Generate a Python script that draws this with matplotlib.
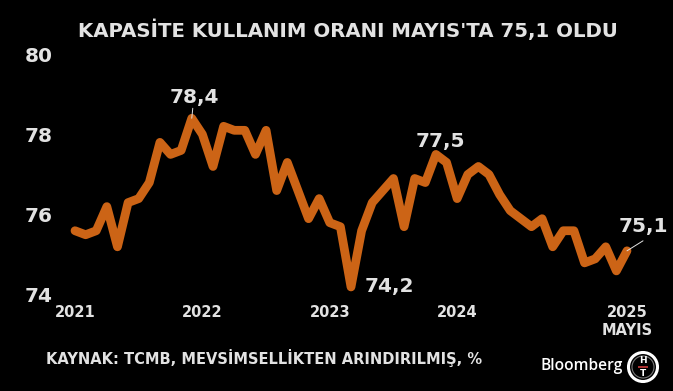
import matplotlib
matplotlib.use("Agg")
import matplotlib.pyplot as plt
from matplotlib.patches import Circle, Rectangle

W, H = 673, 391
values = [75.6, 75.5, 75.6, 76.2, 75.2, 76.3, 76.4, 76.8, 77.8, 77.5, 77.6, 78.4,
          78.0, 77.2, 78.2, 78.1, 78.1, 77.5, 78.1, 76.6, 77.3, 76.6, 75.9, 76.4,
          75.8, 75.7, 74.2, 75.6, 76.3, 76.6, 76.9, 75.7, 76.9, 76.8, 77.5, 77.3,
          76.4, 77.0, 77.2, 77.0, 76.5, 76.1, 75.9, 75.7, 75.9, 75.2, 75.6, 75.6,
          74.8, 74.9, 75.2, 74.6, 75.1]
months = list(range(len(values)))
y_ticks = [74, 76, 78, 80]
x_ticks = [0, 12, 24, 36, 52]
x_labels = ["2021", "2022", "2023", "2024", "2025\nMAYIS"]
callouts = [("78,4", 11, 78.4, 3, 21), ("77,5", 34, 77.5, 4, 13),
            ("74,2", 26, 74.2, 38, 0), ("75,1", 52, 75.1, 16, 24)]

TXT = "#e2e2e2"
ORANGE = "#cc6416"
fig = plt.figure(figsize=(W / 100, H / 100), dpi=100, facecolor="black")
fig.canvas.draw()
ax = fig.add_axes([75 / W, (H - 295) / H, (627 - 75) / W, (295 - 54) / H], facecolor="none")
ax.plot(months, values, color=ORANGE, lw=6.3, solid_joinstyle="round", solid_capstyle="round", clip_on=False)
ax.set_xlim(0, 52)
ax.set_ylim(74, 80)
for s in ax.spines.values():
    s.set_visible(False)
ax.set_yticks(y_ticks)
ax.set_yticklabels([str(v) for v in y_ticks], fontsize=14.5, fontweight="bold", color=TXT)
ax.set_xticks(x_ticks)
ax.set_xticklabels(x_labels, fontsize=10.5, fontweight="bold", color=TXT, linespacing=1.25, va="top")
ax.tick_params(axis="y", length=0, pad=16)
ax.tick_params(axis="x", length=0, pad=7)

PT = 72 / 100
for label, i, v, dx, dy in callouts:
    ax.annotate(label, xy=(i, v), xytext=(dx * PT, dy * PT), textcoords="offset points",
                ha="center", va="center", fontsize=14.5, fontweight="bold", color=TXT,
                annotation_clip=False)
ax.annotate("", xy=(11, 78.4), xytext=(1 * PT, 10 * PT), textcoords="offset points",
            arrowprops=dict(arrowstyle="-", color=TXT, lw=0.7, shrinkA=0, shrinkB=0))
ax.annotate("", xy=(52, 75.1), xytext=(16 * PT, 10 * PT), textcoords="offset points",
            arrowprops=dict(arrowstyle="-", color=TXT, lw=0.7, shrinkA=0, shrinkB=0))


def px(x, y):
    return x / W, 1 - y / H


fig.text(*px(348, 30), "KAPASİTE KULLANIM ORANI MAYIS'TA 75,1 OLDU", ha="center", va="center",
         fontsize=14.2, fontweight="bold", color=TXT)
fig.text(*px(46, 358), "KAYNAK: TCMB, MEVSİMSELLİKTEN ARINDIRILMIŞ, %", ha="left", va="center",
         fontsize=10.5, fontweight="bold", color=TXT)
fig.text(*px(541, 366), "Bloomberg", ha="left", va="center", fontsize=11.2,
         family="Open Sans", fontweight="semibold", color="white")

ov = fig.add_axes([0, 0, 1, 1], facecolor="none")
ov.set_xlim(0, W)
ov.set_ylim(H, 0)
ov.set_aspect("equal")
ov.axis("off")
ov.add_patch(Circle((643, 367), 14.5, fc="black", ec="white", lw=2.2))
ov.add_patch(Circle((643, 367), 11, fc="black", ec="#777777", lw=0.8))
ov.add_patch(Rectangle((638, 365.5), 10, 2.5, fc="#a83030", ec="none"))
ov.text(643, 360.5, "H", ha="center", va="center", fontsize=6.5, fontweight="bold", color="white")
ov.text(643, 373.5, "T", ha="center", va="center", fontsize=6.5, fontweight="bold", color="white")

fig.savefig("out.png", dpi=100, facecolor="black")
